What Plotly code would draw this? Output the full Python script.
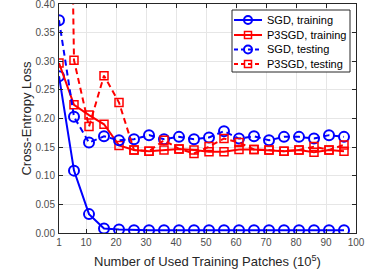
import plotly.graph_objects as go

x_patches = [1, 6, 11, 16, 21, 26, 31, 36, 41, 46, 51, 56, 61, 66, 71, 76, 81, 86, 91, 96]
sgd_train = [0.274, 0.109, 0.033, 0.008, 0.006, 0.005, 0.005, 0.005, 0.005, 0.005,
             0.005, 0.005, 0.005, 0.005, 0.005, 0.005, 0.005, 0.005, 0.005, 0.005]
p3sgd_train = [0.297, 0.224, 0.206, 0.190, 0.153, 0.145, 0.143, 0.145, 0.147, 0.145,
               0.142, 0.142, 0.146, 0.146, 0.145, 0.143, 0.145, 0.141, 0.145, 0.143]
sgd_test = [0.372, 0.203, 0.158, 0.169, 0.162, 0.164, 0.171, 0.164, 0.168, 0.164,
            0.167, 0.178, 0.165, 0.169, 0.162, 0.168, 0.168, 0.165, 0.171, 0.168]
p3sgd_test = [2.0, 0.302, 0.186, 0.275, 0.228, 0.145, 0.143, 0.162, 0.147, 0.139,
              0.151, 0.165, 0.158, 0.146, 0.145, 0.143, 0.145, 0.151, 0.145, 0.154]

series_names = ["SGD, training", "P3SGD, training", "SGD, testing", "P3SGD, testing"]

x_ticks = [1, 10, 20, 30, 40, 50, 60, 70, 80, 90, 100]
x_tick_labels = [str(v) for v in x_ticks]
y_ticks = [0.0, 0.05, 0.10, 0.15, 0.20, 0.25, 0.30, 0.35, 0.40]
y_tick_labels = ["%.2f" % v for v in y_ticks]

x_title = "Number of Used Training Patches (10<sup>5</sup>)"
y_title = "Cross-Entropy Loss"

BLUE = "#0000ff"
RED = "#ff0000"
DASH = "6px,4px"
FONT = "Liberation Sans, Arial"

styles = [
    dict(color=BLUE, dash="solid", symbol="circle-open", size=10),
    dict(color=RED, dash="solid", symbol="square-open", size=8),
    dict(color=BLUE, dash=DASH, symbol="circle-open", size=10),
    dict(color=RED, dash=DASH, symbol="square-open", size=8),
]
series = [sgd_train, p3sgd_train, sgd_test, p3sgd_test]

fig = go.Figure()
for name, ys, st in zip(series_names, series, styles):
    fig.add_trace(go.Scatter(
        x=x_patches, y=ys, name=name, mode="lines+markers", showlegend=False,
        line=dict(color=st["color"], width=2, dash=st["dash"]),
        marker=dict(symbol=st["symbol"], size=st["size"], color=st["color"],
                    line=dict(width=2 if "circle" in st["symbol"] else 1.5))))

axis_common = dict(showgrid=True, gridcolor="#e6e6e6", gridwidth=1, zeroline=False,
                   showline=True, linecolor="#262626", linewidth=1, mirror="ticks",
                   ticks="inside", ticklen=4, tickcolor="#262626", automargin=False,
                   ticklabeloverflow="allow",
                   tickfont=dict(family=FONT, size=10, color="#4d4d4d"))

fig.update_xaxes(range=[1, 100], tickvals=x_ticks, ticktext=x_tick_labels, **axis_common)
fig.update_yaxes(range=[0, 0.4002], tickvals=y_ticks, ticktext=y_tick_labels,
                 ticklabelstandoff=1,
                 title=dict(text=y_title, font=dict(family=FONT, size=13, color="#262626"),
                            standoff=0),
                 **axis_common)

L, R, T, B = 59, 356, 4, 233
def px_x(p):
    return (p - L) / (R - L)
def px_y(p):
    return (B - p) / (B - T)

annotations = [
    dict(xref="paper", yref="paper", x=px_x(207), y=px_y(261), xanchor="center", yanchor="middle",
         showarrow=False, text=x_title, font=dict(family=FONT, size=13, color="#262626")),
]

# ---- legend drawn in the MATLAB style (compact box) ----
shapes = [dict(type="rect", xref="paper", yref="paper",
               x0=px_x(232), x1=px_x(350), y0=px_y(72), y1=px_y(10),
               fillcolor="white", line=dict(color="#262626", width=1), layer="above")]
rows = [20, 35, 49.5, 64]
for name, st, ry in zip(series_names, styles, rows):
    shapes.append(dict(type="line", xref="paper", yref="paper",
                       x0=px_x(234), x1=px_x(262), y0=px_y(ry), y1=px_y(ry),
                       line=dict(color=st["color"], width=2,
                                 dash="4px,3px" if st["dash"] != "solid" else "solid"),
                       layer="above"))
    if "circle" in st["symbol"]:
        shapes.append(dict(type="circle", xref="paper", yref="paper",
                           x0=px_x(244), x1=px_x(252), y0=px_y(ry + 4), y1=px_y(ry - 4),
                           line=dict(color=st["color"], width=2), layer="above"))
    else:
        shapes.append(dict(type="rect", xref="paper", yref="paper",
                           x0=px_x(244.5), x1=px_x(251.5), y0=px_y(ry + 3.5), y1=px_y(ry - 3.5),
                           line=dict(color=st["color"], width=1.5), layer="above"))
    annotations.append(dict(xref="paper", yref="paper", x=px_x(265), y=px_y(ry),
                            xanchor="left", yanchor="middle", showarrow=False,
                            text=name, font=dict(family=FONT, size=11, color="#000000")))

fig.update_layout(
    width=382, height=270,
    margin=dict(l=L, r=382 - R, t=T, b=270 - B),
    plot_bgcolor="white", paper_bgcolor="white",
    shapes=shapes, annotations=annotations,
    showlegend=False,
)

fig.write_html("out.html", config={"displayModeBar": False},
               post_script="document.body.style.margin='0';")
